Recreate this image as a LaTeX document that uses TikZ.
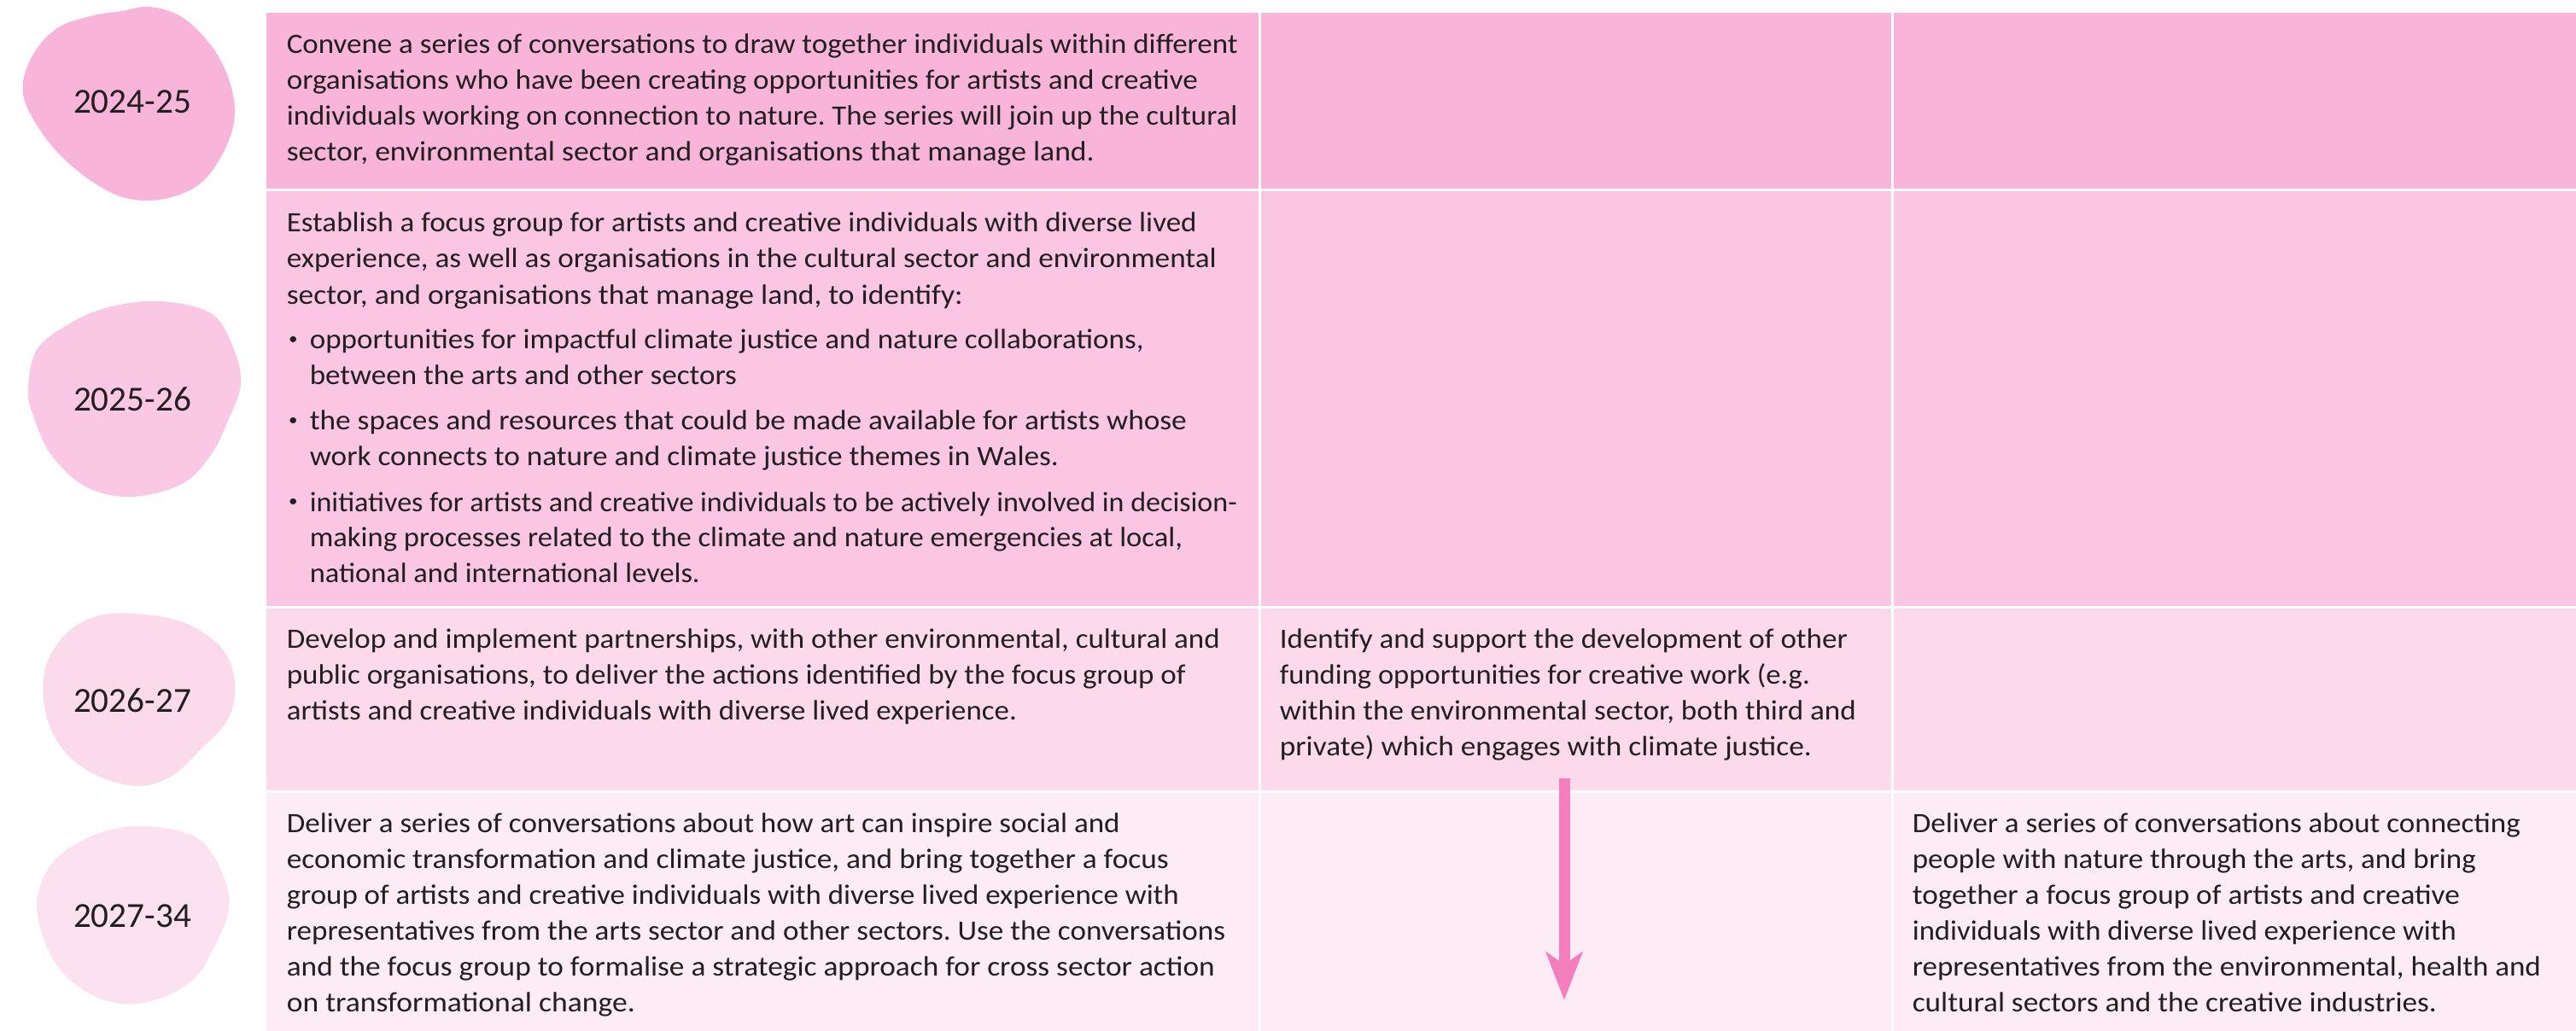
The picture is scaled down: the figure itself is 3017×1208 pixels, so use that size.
\documentclass[tikz,border=0pt]{standalone}
\usepackage{fontspec}
\setmainfont{Carlito}
\newfontfamily\bodyfont[FakeStretch=1.07]{Carlito}
\usetikzlibrary{arrows.meta}
\definecolor{rowA}{RGB}{249,180,217}
\definecolor{rowB}{RGB}{250,198,227}
\definecolor{rowC}{RGB}{252,218,236}
\definecolor{rowD}{RGB}{253,236,245}
\definecolor{blobA}{RGB}{249,180,217}
\definecolor{blobB}{RGB}{250,200,228}
\definecolor{blobC}{RGB}{251,218,235}
\definecolor{blobD}{RGB}{252,226,240}
\definecolor{ink}{RGB}{35,31,32}
\definecolor{arrowpink}{RGB}{244,127,189}
\newlength\pxu
\setlength\pxu{0.25pt}
\newcommand{\fitline}[2]{\resizebox{#1\pxu}{\height}{#2}}
\newcommand{\cellpar}[1]{\parbox[t]{420pt}{\raggedright\frenchspacing #1}}
\newcommand{\bul}{\makebox[6.75pt][l]{\hspace{0.6pt}\raisebox{0.17em}{\scalebox{0.6}{\textbullet}}}}
\newcommand{\ind}{\hspace*{6.75pt}}
\begin{document}
\begin{tikzpicture}[x=0.25pt,y=-0.25pt,
  bodytext/.style={anchor=base west, inner sep=0pt, text=ink, font=\bodyfont\fontsize{8.2pt}{10.5pt}\selectfont},
  yeartext/.style={anchor=base, inner sep=0pt, text=ink, font=\fontsize{10.3pt}{12pt}\selectfont},
  arrowline/.style={draw=arrowpink, line width=3.25pt, -{Stealth[length=14pt,width=10.5pt,inset=3.5pt]}}]
\useasboundingbox (0,0) rectangle (3017,1208);
\fill[white] (0,0) rectangle (3017,1208);
% table cells
\fill[rowA] (312,15) rectangle (1474,221);
\fill[rowA] (1477,15) rectangle (2215,221);
\fill[rowA] (2218,15) rectangle (3017,221);
\fill[rowB] (312,224) rectangle (1474,710);
\fill[rowB] (1477,224) rectangle (2215,710);
\fill[rowB] (2218,224) rectangle (3017,710);
\fill[rowC] (312,713) rectangle (1474,926);
\fill[rowC] (1477,713) rectangle (2215,926);
\fill[rowC] (2218,713) rectangle (3017,926);
\fill[rowD] (312,929) rectangle (1474,1208);
\fill[rowD] (1477,929) rectangle (2215,1208);
\fill[rowD] (2218,929) rectangle (3017,1208);
% blobs
\fill[blobA] plot[smooth cycle, tension=0.6] coordinates {(175,8) (213,20) (247,53) (267,90) (275,130) (267,167) (243,207) (213,227) (173,235) (133,227) (87,197) (50,157) (27,110) (37,67) (67,33) (110,18) (143,13)};
\fill[blobB] plot[smooth cycle, tension=0.6] coordinates {(187,353) (247,367) (273,407) (282,450) (267,493) (247,533) (213,567) (153,582) (100,570) (60,533) (40,490) (33,457) (43,410) (80,380) (127,360)};
\fill[blobC] plot[smooth cycle, tension=0.6] coordinates {(160,719) (217,730) (260,760) (275,800) (267,843) (233,880) (200,910) (160,921) (110,907) (73,877) (53,833) (53,783) (77,743) (113,722)};
\fill[blobD] plot[smooth cycle, tension=0.6] coordinates {(173,968) (233,983) (263,1030) (267,1070) (247,1117) (227,1147) (187,1170) (140,1176) (93,1157) (60,1120) (43,1063) (57,1017) (87,990) (127,973)};
% year labels
\node[yeartext] (y1) at (155,133) {2024-25};
\node[yeartext] (y2) at (155,482) {2025-26};
\node[yeartext] (y3) at (155,834) {2026-27};
\node[yeartext] (y4) at (155,1086) {2027-34};
% texts
\node[bodytext] (t11) at (335,63) {\cellpar{\fitline{1114}{Convene a series of conversations to draw together individuals within different}\\
\fitline{1067}{organisations who have been creating opportunities for artists and creative}\\
\fitline{1114}{individuals working on connection to nature. The series will join up the cultural}\\
\fitline{946}{sector, environmental sector and organisations that manage land.}}};
\node[bodytext] (t21) at (335,272) {\cellpar{\fitline{1066}{Establish a focus group for artists and creative individuals with diverse lived}\\
\fitline{1089}{experience, as well as organisations in the cultural sector and environmental}\\
\fitline{792}{sector, and organisations that manage land, to identify:}\\[2.75pt]
\bul\fitline{977}{opportunities for impactful climate justice and nature collaborations,}\\
\ind\fitline{500}{between the arts and other sectors}\\[2.75pt]
\bul\fitline{1027}{the spaces and resources that could be made available for artists whose}\\
\ind\fitline{877}{work connects to nature and climate justice themes in Wales.}\\[2.75pt]
\bul\fitline{1086}{initiatives for artists and creative individuals to be actively involved in decision-}\\
\ind\fitline{1022}{making processes related to the climate and nature emergencies at local,}\\
\ind\fitline{457}{national and international levels.}}};
\node[bodytext] (t31) at (335,759) {\cellpar{\fitline{1093}{Develop and implement partnerships, with other environmental, cultural and}\\
\fitline{1053}{public organisations, to deliver the actions identified by the focus group of}\\
\fitline{855}{artists and creative individuals with diverse lived experience.}}};
\node[bodytext] (t32) at (1498,759) {\cellpar{\fitline{665}{Identify and support the development of other}\\
\fitline{621}{funding opportunities for creative work (e.g.}\\
\fitline{675}{within the environmental sector, both third and}\\
\fitline{623}{private) which engages with climate justice.}}};
\node[bodytext] (t41) at (335,975) {\cellpar{\fitline{976}{Deliver a series of conversations about how art can inspire social and}\\
\fitline{1033}{economic transformation and climate justice, and bring together a focus}\\
\fitline{1045}{group of artists and creative individuals with diverse lived experience with}\\
\fitline{1099}{representatives from the arts sector and other sectors. Use the conversations}\\
\fitline{1087}{and the focus group to formalise a strategic approach for cross sector action}\\
\fitline{408}{on transformational change.}}};
\node[bodytext] (t43) at (2239,975) {\cellpar{\fitline{712}{Deliver a series of conversations about connecting}\\
\fitline{660}{people with nature through the arts, and bring}\\
\fitline{641}{together a focus group of artists and creative}\\
\fitline{637}{individuals with diverse lived experience with}\\
\fitline{736}{representatives from the environmental, health and}\\
\fitline{614}{cultural sectors and the creative industries.}}};
% arrow
\coordinate (arrS) at (1832,912);
\coordinate (arrE) at (1832,1172);
\draw[arrowline] (arrS) -- (arrE);
\end{tikzpicture}
\end{document}
